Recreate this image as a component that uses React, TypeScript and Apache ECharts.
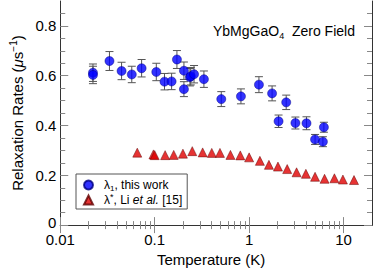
import React, { useEffect, useRef } from "react";
import * as echarts from "echarts";

// λ1, this work
const blueT = [0.0222, 0.0222, 0.0332, 0.0446, 0.0572, 0.0727, 0.104, 0.127, 0.151, 0.172, 0.204, 0.204, 0.236, 0.241, 0.261, 0.332, 0.507, 0.819, 1.27, 1.75, 2.05, 2.47, 3.09, 4.05, 4.99, 6.04, 6.19];
const blueV = [0.612, 0.603, 0.659, 0.619, 0.605, 0.630, 0.615, 0.576, 0.577, 0.665, 0.620, 0.546, 0.594, 0.598, 0.606, 0.586, 0.506, 0.517, 0.564, 0.529, 0.417, 0.493, 0.410, 0.409, 0.344, 0.335, 0.393];
const blueErr = [0.035, 0.035, 0.038, 0.035, 0.033, 0.035, 0.035, 0.033, 0.033, 0.036, 0.035, 0.03, 0.035, 0.035, 0.035, 0.033, 0.03, 0.03, 0.032, 0.03, 0.025, 0.029, 0.024, 0.026, 0.02, 0.02, 0.02];

// λ*, Li et al. [15]
const redT = [0.0654, 0.097, 0.1, 0.129, 0.159, 0.199, 0.25, 0.322, 0.402, 0.491, 0.634, 0.806, 1.0, 1.3, 1.62, 2.02, 2.53, 3.18, 3.99, 4.99, 6.29, 8.0, 9.84, 12.9];
const redV = [0.291, 0.284, 0.281, 0.281, 0.282, 0.287, 0.297, 0.292, 0.29, 0.29, 0.282, 0.28, 0.272, 0.258, 0.242, 0.235, 0.225, 0.212, 0.206, 0.194, 0.186, 0.188, 0.183, 0.181];

const xMajor = [0.01, 0.1, 1, 10];
const xMinor = [0.02, 0.03, 0.04, 0.05, 0.06, 0.07, 0.08, 0.09, 0.2, 0.3, 0.4, 0.5, 0.6, 0.7, 0.8, 0.9, 2, 3, 4, 5, 6, 7, 8, 9];
const yMajor = [0, 0.2, 0.4, 0.6, 0.8];
const yMinor = [0.05, 0.1, 0.15, 0.25, 0.3, 0.35, 0.45, 0.5, 0.55, 0.65, 0.7, 0.75, 0.85];

const FONT = "'Liberation Sans', Arial, Helvetica, sans-serif";
const AXIS_COLOR = "#333";
const TICK_COLOR = "#888";

export default function App() {
  const ref = useRef<HTMLDivElement>(null);
  useEffect(() => {
    if (!ref.current) return;
    const chart = echarts.init(ref.current, null, { renderer: "svg" });
    const fmt = (v: number) => String(Number(Number(v).toPrecision(3)));
    const xBase = { type: "log", logBase: 10, min: 0.01, max: 20, splitLine: { show: false }, gridIndex: 0 };
    const yBase = { type: "value", min: 0, max: 0.9, splitLine: { show: false }, gridIndex: 0 };
    const option: any = {
      animation: false,
      grid: { left: 54, right: 2, top: 1, bottom: 39, containLabel: false },
      title: {
        text: "{a|YbMgGaO}{sub|4}{a|  Zero Field}",
        left: 208,
        top: 17,
        textStyle: {
          fontWeight: "normal",
          rich: {
            a: { fontFamily: FONT, fontSize: 14, fontWeight: "normal", color: "#000", lineHeight: 18 },
            sub: { fontFamily: FONT, fontSize: 9, fontWeight: "normal", color: "#000", lineHeight: 9, verticalAlign: "bottom" },
          },
        },
      },
      legend: {
        orient: "vertical",
        left: 76,
        top: 174,
        padding: [5, 5, 3, 7],
        itemGap: 0,
        itemWidth: 9,
        itemHeight: 9,
        borderColor: "#555",
        borderWidth: 1,
        borderRadius: 0,
        data: [
          { name: "l1", icon: "circle" },
          { name: "ls", icon: "triangle" },
        ],
        formatter: (name: string) =>
          name === "l1"
            ? "{a|λ}{sub|1}{a|, this work}"
            : "{a|λ}{sup|*}{a|, Li }{i|et al.}{a| [15]}",
        textStyle: {
          padding: [0, 0, 0, 6],
          rich: {
            a: { fontFamily: FONT, fontSize: 12, color: "#000", lineHeight: 15 },
            i: { fontFamily: FONT, fontSize: 12, color: "#000", fontStyle: "italic", lineHeight: 15 },
            sub: { fontFamily: FONT, fontSize: 8, color: "#000", lineHeight: 8, verticalAlign: "bottom" },
            sup: { fontFamily: FONT, fontSize: 9, color: "#000", lineHeight: 9, verticalAlign: "top" },
          },
        },
      },
      xAxis: [
        {
          ...xBase,
          position: "bottom",
          axisLine: { show: true, lineStyle: { color: AXIS_COLOR, width: 1 } },
          axisTick: { show: true, inside: true, length: 8, customValues: xMajor, lineStyle: { color: TICK_COLOR } },
          axisLabel: { show: true, customValues: xMajor, formatter: fmt, margin: 8, lineHeight: 13, fontFamily: FONT, fontSize: 15, color: "#000" },
          name: "Temperature (K)",
          nameLocation: "middle",
          nameGap: 21,
          nameTextStyle: { fontFamily: FONT, fontSize: 15, color: "#000", padding: [0, 10, 0, 0] },
        },
        {
          ...xBase,
          position: "bottom",
          axisLine: { show: false },
          axisTick: { show: true, inside: true, length: 4, customValues: xMinor, lineStyle: { color: TICK_COLOR } },
          axisLabel: { show: false },
        },
        {
          ...xBase,
          position: "top",
          axisLine: { show: true, lineStyle: { color: AXIS_COLOR, width: 1 } },
          axisTick: { show: true, inside: true, length: 8, customValues: xMajor, lineStyle: { color: TICK_COLOR } },
          axisLabel: { show: false },
        },
        {
          ...xBase,
          position: "top",
          axisLine: { show: false },
          axisTick: { show: true, inside: true, length: 4, customValues: xMinor, lineStyle: { color: TICK_COLOR } },
          axisLabel: { show: false },
        },
      ],
      yAxis: [
        {
          ...yBase,
          position: "left",
          axisLine: { show: true, lineStyle: { color: AXIS_COLOR, width: 1 } },
          axisTick: { show: true, inside: true, length: 8, customValues: yMajor, lineStyle: { color: TICK_COLOR } },
          axisLabel: {
            show: true,
            customValues: yMajor,
            formatter: (v: number) => (Number(v) === 0 ? "{z|0}" : fmt(v)),
            margin: 4,
            lineHeight: 12,
            fontFamily: FONT,
            fontSize: 15,
            color: "#000",
            rich: { z: { fontFamily: FONT, fontSize: 15, color: "#000", lineHeight: 12, padding: [0, 0, 5, 0] } },
          },
          name: "{a|Relaxation Rates (}{i|μ}{a|s}{sup|−1}{a|)}",
          nameLocation: "middle",
          nameGap: 28,
          nameRotate: 90,
          nameTextStyle: {
            rich: {
              a: { fontFamily: FONT, fontSize: 15, color: "#000", lineHeight: 18 },
              i: { fontFamily: FONT, fontSize: 15, color: "#000", fontStyle: "italic", lineHeight: 18 },
              sup: { fontFamily: FONT, fontSize: 10, color: "#000", lineHeight: 10, verticalAlign: "top" },
            },
          },
        },
        {
          ...yBase,
          position: "left",
          axisLine: { show: false },
          axisTick: { show: true, inside: true, length: 5, customValues: yMinor, lineStyle: { color: TICK_COLOR } },
          axisLabel: { show: false },
        },
        {
          ...yBase,
          position: "right",
          axisLine: { show: true, lineStyle: { color: AXIS_COLOR, width: 1 } },
          axisTick: { show: true, inside: true, length: 8, customValues: yMajor, lineStyle: { color: TICK_COLOR } },
          axisLabel: { show: false },
        },
        {
          ...yBase,
          position: "right",
          axisLine: { show: false },
          axisTick: { show: true, inside: true, length: 5, customValues: yMinor, lineStyle: { color: TICK_COLOR } },
          axisLabel: { show: false },
        },
      ],
      series: [
        {
          type: "custom",
          name: "err",
          xAxisIndex: 0,
          yAxisIndex: 0,
          silent: true,
          z: 1,
          data: blueT.map((t, i) => [t, blueV[i] - blueErr[i], blueV[i] + blueErr[i]]),
          encode: { x: 0, y: [1, 2] },
          renderItem: (params: any, api: any) => {
            const x = api.value(0);
            const p1 = api.coord([x, api.value(1)]);
            const p2 = api.coord([x, api.value(2)]);
            const w = 4;
            const style = { stroke: "#555", lineWidth: 1 };
            return {
              type: "group",
              children: [
                { type: "line", shape: { x1: p1[0], y1: p1[1], x2: p2[0], y2: p2[1] }, style },
                { type: "line", shape: { x1: p1[0] - w, y1: p1[1], x2: p1[0] + w, y2: p1[1] }, style },
                { type: "line", shape: { x1: p2[0] - w, y1: p2[1], x2: p2[0] + w, y2: p2[1] }, style },
              ],
            };
          },
        },
        {
          type: "scatter",
          name: "ls",
          xAxisIndex: 0,
          yAxisIndex: 0,
          symbol: "triangle",
          symbolSize: 9,
          z: 2,
          itemStyle: { color: "#e00000", borderColor: "#600000", borderWidth: 0.6 },
          data: redT.map((t, i) => [t, redV[i]]),
        },
        {
          type: "scatter",
          name: "l1",
          xAxisIndex: 0,
          yAxisIndex: 0,
          symbol: "circle",
          symbolSize: 9,
          z: 3,
          itemStyle: { color: "#0000ff", borderColor: "#000080", borderWidth: 0.6 },
          data: blueT.map((t, i) => [t, blueV[i]]),
        },
      ],
    };
    chart.setOption(option);
    return () => chart.dispose();
  }, []);
  return <div ref={ref} style={{ width: 374, height: 272, position: "absolute", left: 0, top: 0 }} />;
}
